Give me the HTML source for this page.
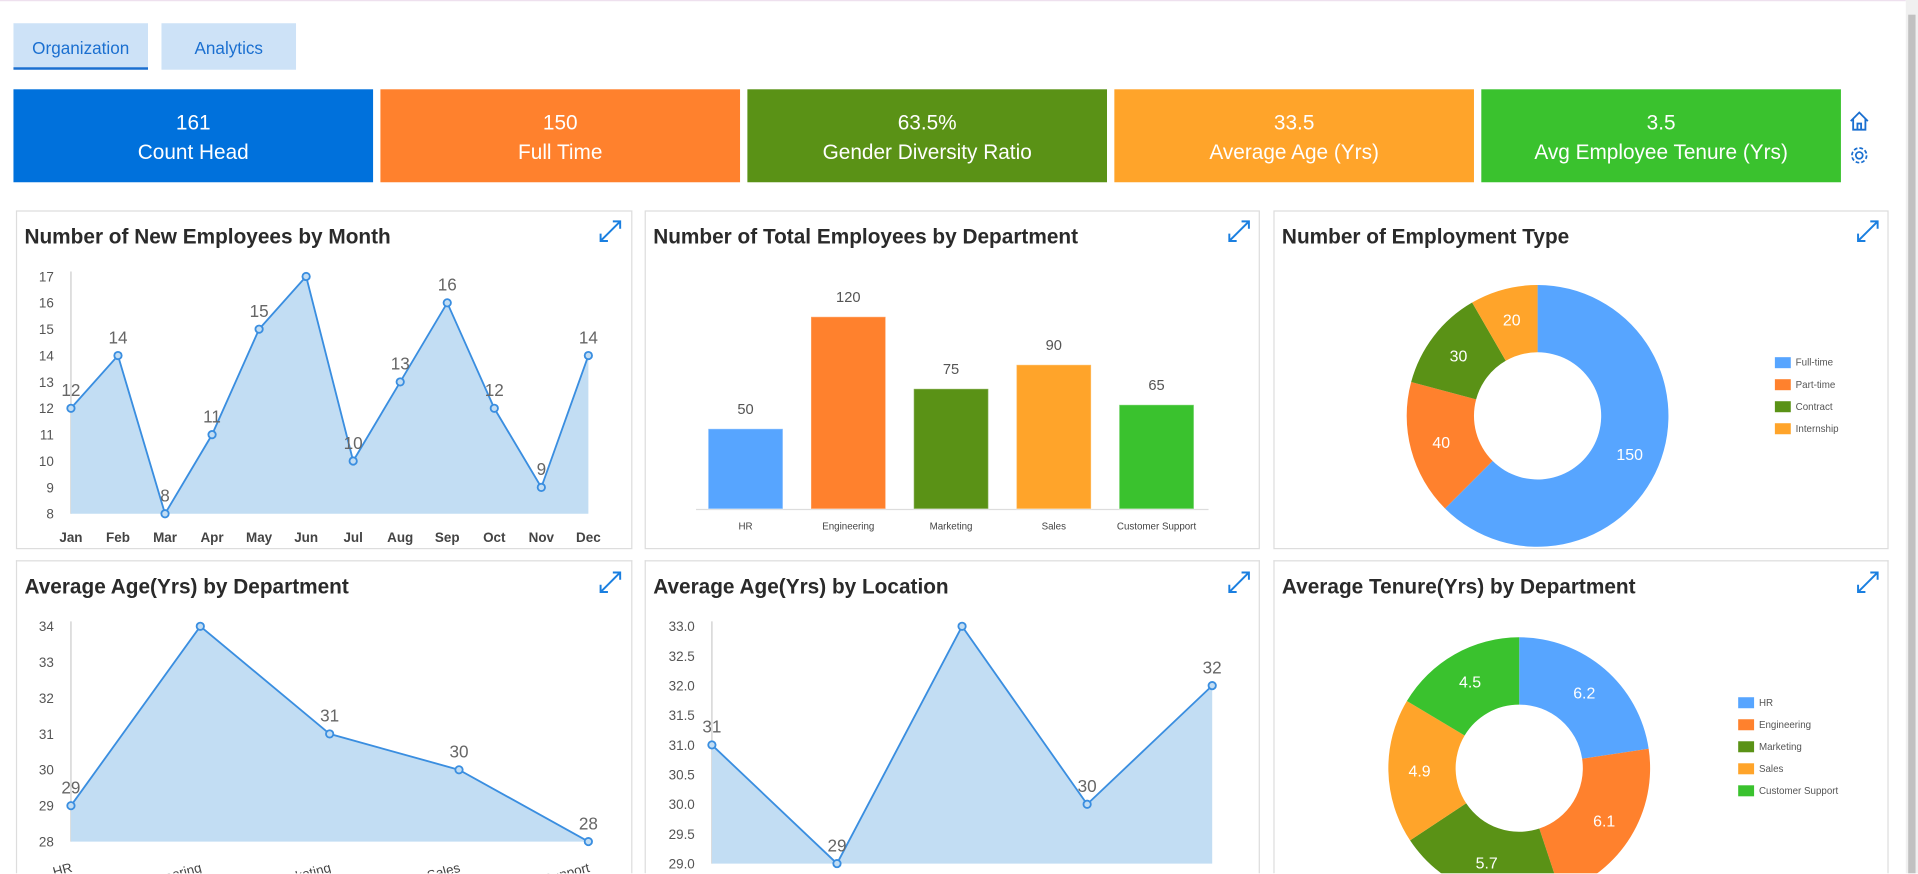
<!DOCTYPE html>
<html><head><meta charset="utf-8">
<style>
html,body{margin:0;padding:0;width:1918px;height:874px;overflow:hidden;background:#fff;font-family:"Liberation Sans",sans-serif;}
#wrap{position:absolute;left:0;top:0;width:1568px;height:714px;overflow:hidden;transform:scale(1.22321);transform-origin:0 0;}
.tab{position:absolute;top:19px;height:38px;width:110px;background:#cde2f7;color:#1a6fd0;font-size:14px;line-height:40px;text-align:center;}
.kpi{position:absolute;top:73px;height:76px;width:294px;color:#fff;text-align:center;}
.kpi .n{font-size:17px;margin-top:18px;}
.kpi .l{font-size:17px;margin-top:4px;}
.panel{position:absolute;border:1px solid #ddd;background:#fff;}
.panel.b{border-bottom:none;}
.title{position:absolute;left:6px;top:11px;font-size:17px;color:#2a2a2a;font-weight:600;white-space:nowrap;}
svg text{font-family:"Liberation Sans",sans-serif;}
</style></head><body>
<div id="wrap">
<div style="position:absolute;left:0;top:0;width:1558px;height:1px;background:#eee0ee"></div>
<div style="position:absolute;left:1558px;top:0;width:10px;height:714px;background:#f0f0f0"><div style="position:absolute;left:2px;top:12px;width:6px;height:702px;background:#c1c1c1"></div></div>
<div class="tab" style="left:11px;border-bottom:2px solid #1a6fd0;height:36px">Organization</div>
<div class="tab" style="left:132px">Analytics</div>
<div class="kpi" style="left:11px;background:#0071dc"><div class="n">161</div><div class="l">Count Head</div></div>
<div class="kpi" style="left:311px;background:#ff812d"><div class="n">150</div><div class="l">Full Time</div></div>
<div class="kpi" style="left:611px;background:#5a9216"><div class="n">63.5%</div><div class="l">Gender Diversity Ratio</div></div>
<div class="kpi" style="left:911px;background:#ffa42a"><div class="n">33.5</div><div class="l">Average Age (Yrs)</div></div>
<div class="kpi" style="left:1211px;background:#3ac22e"><div class="n">3.5</div><div class="l">Avg Employee Tenure (Yrs)</div></div>
<svg style="position:absolute;left:1511px;top:90px" width="18" height="18" viewBox="0 0 18 18"><path d="M2 9 L9 2 L16 9 M4 7 V16 H14 V7 M7.5 16 V11 H10.5 V16" fill="none" stroke="#1a6fd0" stroke-width="1.5"/></svg>
<svg style="position:absolute;left:1511px;top:118px" width="18" height="18" viewBox="0 0 18 18"><circle cx="9" cy="9" r="2.8" fill="none" stroke="#1a6fd0" stroke-width="1.4"/><circle cx="9" cy="9" r="6" fill="none" stroke="#1a6fd0" stroke-width="1.4" stroke-dasharray="3 1.7"/></svg>

<div class="panel" style="left:13px;top:172px;width:502px;height:275px"><div class="title">Number of New Employees by Month</div></div>
<div class="panel" style="left:527px;top:172px;width:501px;height:275px"><div class="title">Number of Total Employees by Department</div></div>
<div class="panel" style="left:1041px;top:172px;width:501px;height:275px"><div class="title">Number of Employment Type</div></div>
<div class="panel b" style="left:13px;top:458px;width:502px;height:255px"><div class="title">Average Age(Yrs) by Department</div></div>
<div class="panel b" style="left:527px;top:458px;width:501px;height:255px"><div class="title">Average Age(Yrs) by Location</div></div>
<div class="panel b" style="left:1041px;top:458px;width:501px;height:255px"><div class="title">Average Tenure(Yrs) by Department</div></div>

<svg id="charts" width="1568" height="714" style="position:absolute;left:0;top:0"></svg>
</div>
<script>
// Chart 1
const months=["Jan","Feb","Mar","Apr","May","Jun","Jul","Aug","Sep","Oct","Nov","Dec"];
const newEmployees=[12,14,8,11,15,17,10,13,16,12,9,14];
const c1Ticks=[8,9,10,11,12,13,14,15,16,17];
// Chart 2
const departments=["HR","Engineering","Marketing","Sales","Customer Support"];
const deptTotals=[50,120,75,90,65];
// Chart 3
const empTypes=["Full-time","Part-time","Contract","Internship"];
const empTypeCounts=[150,40,30,20];
// Chart 4
const ageByDept=[29,34,31,30,28];
const c4Ticks=[28,29,30,31,32,33,34];
// Chart 5
const locations=["Location A","Location B","Location C","Location D","Location E"];
const ageByLocation=[31,29,33,30,32];
const c5Ticks=[29.0,29.5,30.0,30.5,31.0,31.5,32.0,32.5,33.0];
// Chart 6
const tenureByDept=[6.2,6.1,5.7,4.9,4.5];

const colors=["#57a5ff","#ff812d","#5a9216","#ffa42a","#3ac22e"];
const svg=document.getElementById('charts');
const NS="http://www.w3.org/2000/svg";
function mk(tag,attrs,parent){const e=document.createElementNS(NS,tag);for(const k in attrs)e.setAttribute(k,attrs[k]);(parent||svg).appendChild(e);return e;}
function txt(x,y,s,attrs,parent){const t=mk('text',Object.assign({x:x,y:y},attrs),parent);t.textContent=s;return t;}

function lineChart(cats,vals,ticks,x0,x1,y0,y1,vmin,vmax,fmt,catLabels,name){
  const g=mk('g',{});
  
  
  const xs=i=>x0+(x1-x0)*i/(cats.length-1);
  const ys=v=>y1-(v-vmin)/(vmax-vmin)*(y1-y0);
  ticks.forEach(t=>{const e=txt(x0-14,ys(t)+4,fmt(t),{'font-size':11,fill:'#555','text-anchor':'end'},g);
    
    });
  mk('line',{x1:x0,y1:y0-4,x2:x0,y2:y1,stroke:'#ccc'},g);
  let pts=vals.map((v,i)=>xs(i)+','+ys(v)).join(' ');
  const area=mk('polygon',{points:x0+','+y1+' '+pts+' '+x1+','+y1,fill:'#c2ddf3'},g);
  
  
  const ln=mk('polyline',{points:pts,fill:'none',stroke:'#3a8ee0','stroke-width':1.5},g);
  
  
  vals.forEach((v,i)=>{
    const c=mk('circle',{cx:xs(i),cy:ys(v),r:3,fill:'#c2ddf3',stroke:'#3a8ee0','stroke-width':1.5},g);
    
    
    if(ys(v)-10 > y0-5){
      const l=txt(xs(i),ys(v)-10,String(v),{'font-size':14,fill:'#666','text-anchor':'middle'},g);
      
      
    }
  });
  catLabels(g,xs);
}
lineChart(months,newEmployees,c1Ticks,58,481,226,420,8,17,t=>String(t),(g,xs)=>{
  months.forEach((m,i)=>{const e=txt(xs(i),443,m,{'font-size':11,fill:'#444','text-anchor':'middle','font-weight':'bold'},g);
  
  });
},'new-employees-chart');
lineChart(departments,ageByDept,c4Ticks,58,481,512,688,28,34,t=>String(t),(g,xs)=>{
  departments.forEach((m,i)=>{const x=xs(i);const e=txt(x,712,m,{'font-size':11,fill:'#444','text-anchor':'end',transform:'rotate(-15 '+(x+3)+' 706)'},g);
  
  });
},'age-dept-chart');
lineChart(locations,ageByLocation,c5Ticks,582,991,512,706,29,33,t=>t.toFixed(1),(g,xs)=>{},'age-location-chart');

// bar chart
(function(){
  const g=mk('g',{});
  
  
  const base=416,top=259,vmax=120,x0=569,step=84,bw=61;
  mk('line',{x1:569,y1:base+0.5,x2:988,y2:base+0.5,stroke:'#ddd'},g);
  deptTotals.forEach((v,i)=>{
    const h=v/vmax*(base-top);const x=x0+10+step*i;
    const r=mk('rect',{x:x,y:base-h,width:bw,height:h,fill:colors[i],stroke:'#fff','stroke-opacity':0.3},g);
    
    
    const l=txt(x+bw/2,base-h-12,String(v),{'font-size':12,fill:'#555','text-anchor':'middle'},g);
    
    
    const c=txt(x+bw/2,433,departments[i],{'font-size':8,fill:'#444','text-anchor':'middle'},g);
    
    
  });
})();

function donut(labels,vals,cx,cy,R,r,lx,ly,lstep,name){
  const g=mk('g',{});
  
  
  const tot=vals.reduce((a,b)=>a+b,0);let a=0;
  vals.forEach((v,i)=>{
    const a0=a/tot*2*Math.PI,a1=(a+v)/tot*2*Math.PI;a+=v;
    const P=(rad,an)=>[cx+rad*Math.sin(an),cy-rad*Math.cos(an)];
    const [x0,y0]=P(R,a0),[x1,y1]=P(R,a1),[x2,y2]=P(r,a1),[x3,y3]=P(r,a0);
    const big=(a1-a0)>Math.PI?1:0;
    const p=mk('path',{d:`M${x0},${y0} A${R},${R} 0 ${big} 1 ${x1},${y1} L${x2},${y2} A${r},${r} 0 ${big} 0 ${x3},${y3}Z`,fill:colors[i]},g);
    
    
    const [tx,ty]=P((R+r)/2+2,(a0+a1)/2);
    const t=txt(tx,ty+5,String(v),{'font-size':13,fill:'#fff','text-anchor':'middle'},g);
    
    
    const lr=mk('rect',{x:lx,y:ly+lstep*i-4,width:13,height:9,fill:colors[i]},g);
    
    
    const lt=txt(lx+17,ly+lstep*i+3,labels[i],{'font-size':8,fill:'#555'},g);
    
    
  });
}
donut(empTypes,empTypeCounts,1257,340,107,52,1451,296,18,'employment-type-donut');
donut(departments,tenureByDept,1242,628,107,52,1421,574,18,'tenure-donut');

// expand icons
[[499,189],[1013,189],[1527,189],[499,476],[1013,476],[1527,476]].forEach(([x,y])=>{
  const g=mk('g',{fill:'none',stroke:'#1a7fe0','stroke-width':1.6});
  
  
  mk('path',{d:`M${x-8},${y+8} L${x+8},${y-8} M${x+2},${y-8} H${x+8} V${y-2} M${x-8},${y+2} V${y+8} H${x-2}`},g);
});
</script>
</body></html>
